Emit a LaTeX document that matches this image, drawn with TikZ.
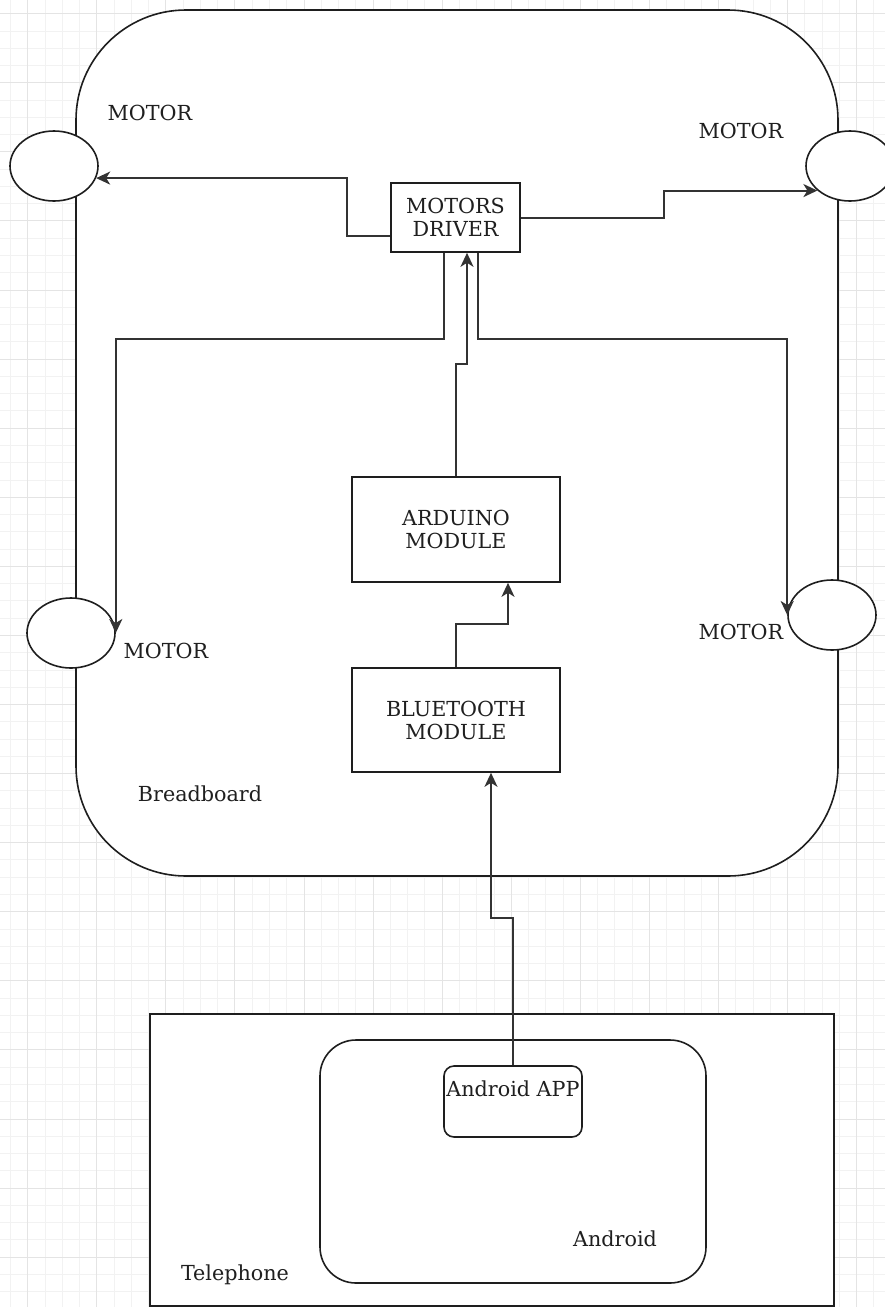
\documentclass[tikz,border=0pt]{standalone}
\usepackage{fontspec}
\setmainfont{DejaVu Serif}
\usetikzlibrary{shapes.geometric,arrows.meta}
\definecolor{gridminor}{HTML}{F2F2F2}
\definecolor{gridmajor}{HTML}{E4E4E4}
\definecolor{ink}{HTML}{1E1E1E}
\definecolor{wire}{HTML}{333333}
\definecolor{txt}{HTML}{1F1F1F}
\tikzset{
  shapeline/.style={draw=ink, line width=1.6pt, fill=white},
  boxnode/.style={shapeline, rectangle, inner sep=0pt},
  motornode/.style={shapeline, ellipse, inner sep=0pt, minimum width=88pt, minimum height=70pt},
  txtnode/.style={inner sep=0pt, align=center, text=txt, font=\fontsize{20.7}{23}\selectfont},
  wirearrow/.style={draw=wire, line width=2pt, -{Stealth[length=14pt,width=13pt,inset=4pt]}},
}
\begin{document}
\begin{tikzpicture}[x=1pt,y=-1pt]
\useasboundingbox (0,0) rectangle (885,1307);
\fill[white] (0,0) rectangle (885,1307);
% grid
\foreach \i in {0,...,51} \draw[gridminor, line width=0.9pt] (10.43+17.27*\i,0) -- (10.43+17.27*\i,1307);
\foreach \i in {0,...,76} \draw[gridminor, line width=0.9pt] (0,-3.57+17.27*\i) -- (885,-3.57+17.27*\i);
\foreach \k in {0,...,12} \draw[gridmajor, line width=0.9pt] (27.7+69.08*\k,0) -- (27.7+69.08*\k,1307);
\foreach \k in {0,...,18} \draw[gridmajor, line width=0.9pt] (0,13.7+69.08*\k) -- (885,13.7+69.08*\k);

% breadboard
\node[shapeline, rectangle, rounded corners=110pt, minimum width=762pt, minimum height=866pt, inner sep=0pt] (board) at (457,443) {};
% motors
\node[motornode] (m1) at (54,166) {};
\node[motornode] (m2) at (850,166) {};
\node[motornode] (m3) at (71,633) {};
\node[motornode] (m4) at (832,615) {};
% boxes
\node[boxnode, minimum width=129pt, minimum height=69pt] (drv) at (455.5,217.5) {};
\node[boxnode, minimum width=208pt, minimum height=105pt] (ard) at (456,529.5) {};
\node[boxnode, minimum width=208pt, minimum height=104pt] (bt) at (456,720) {};
% telephone
\node[boxnode, minimum width=684pt, minimum height=292pt] (phone) at (492,1160) {};
\node[boxnode, rounded corners=36pt, minimum width=386pt, minimum height=243pt] (android) at (513,1161.5) {};
\node[boxnode, rounded corners=10pt, minimum width=138pt, minimum height=71pt] (app) at (513,1101.5) {};

% connectors
\draw[wirearrow] ([yshift=-18.5pt]drv.west) -- ++(-43,0) |- (m1.-16);
\draw[wirearrow] (drv.east) -- ++(143,0) |- (m2.217);
\draw[wirearrow] ([xshift=-12pt]drv.south) -- ++(0,86) -| (m3.east);
\draw[wirearrow] ([xshift=22.5pt]drv.south) -- ++(0,86) -| (m4.west);
\draw[wirearrow] (ard.north) -- ++(0,-112) -| ([xshift=11.5pt]drv.south);
\draw[wirearrow] (bt.north) -- ++(0,-43) -| ([xshift=52pt]ard.south);
\draw[wirearrow] (app.north) -- ++(0,-147) -| ([xshift=35pt]bt.south);

% texts
\node[txtnode] (t1) at (150,113) {MOTOR};
\node[txtnode] (t2) at (741,131) {MOTOR};
\node[txtnode] (t3) at (166,651) {MOTOR};
\node[txtnode] (t4) at (741,632) {MOTOR};
\node[txtnode] (tdrv) at (drv.center) {MOTORS\\DRIVER};
\node[txtnode] (tard) at (ard.center) {ARDUINO\\MODULE};
\node[txtnode] (tbt) at (bt.center) {BLUETOOTH\\MODULE};
\node[txtnode] (tboard) at (200,794) {Breadboard};
\node[txtnode] (tphone) at (235,1275) {Telephone};
\node[txtnode] (tandroid) at (615,1239) {Android};
\node[txtnode] (tapp) at (513,1089) {Android APP};
\end{tikzpicture}
\end{document}
